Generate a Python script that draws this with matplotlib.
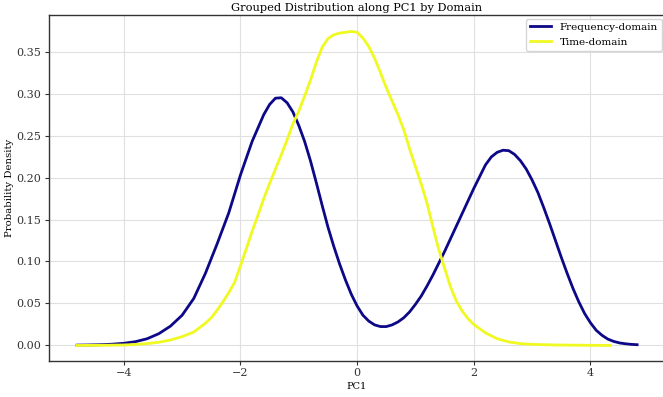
import matplotlib
matplotlib.use("Agg")
import matplotlib.pyplot as plt

# KDE of PC1 scores, one curve per domain
freq_x = [-4.8, -4.6, -4.4, -4.2, -4.0, -3.8, -3.6, -3.4, -3.2, -3.0, -2.8, -2.6, -2.4,
          -2.2, -2.0, -1.8, -1.6, -1.5, -1.4, -1.3, -1.2, -1.1, -1.0, -0.9, -0.8, -0.7,
          -0.6, -0.5, -0.4, -0.3, -0.2, -0.1, 0.0, 0.1, 0.2, 0.3, 0.4, 0.5, 0.6, 0.7,
          0.8, 0.9, 1.0, 1.1, 1.2, 1.3, 1.4, 1.5, 1.6, 1.7, 1.8, 1.9, 2.0, 2.1, 2.2,
          2.3, 2.4, 2.5, 2.6, 2.7, 2.8, 2.9, 3.0, 3.1, 3.2, 3.3, 3.4, 3.5, 3.6, 3.7,
          3.8, 3.9, 4.0, 4.1, 4.2, 4.3, 4.4, 4.5, 4.6, 4.7, 4.8]
freq_y = [0.0004, 0.0006, 0.0009, 0.0015, 0.0026, 0.0045, 0.008, 0.014, 0.023, 0.036,
          0.056, 0.086, 0.121, 0.158, 0.203, 0.243, 0.275, 0.287, 0.2945, 0.295, 0.289,
          0.278, 0.262, 0.243, 0.220, 0.194, 0.167, 0.141, 0.118, 0.097, 0.078, 0.061,
          0.047, 0.036, 0.029, 0.0245, 0.0225, 0.0225, 0.0245, 0.028, 0.033, 0.040,
          0.049, 0.059, 0.071, 0.084, 0.098, 0.112, 0.127, 0.142, 0.157, 0.172, 0.187,
          0.201, 0.215, 0.2245, 0.2300, 0.2325, 0.232, 0.2275, 0.220, 0.210, 0.197,
          0.182, 0.164, 0.145, 0.125, 0.105, 0.086, 0.068, 0.052, 0.038, 0.027, 0.018,
          0.012, 0.0075, 0.0048, 0.003, 0.002, 0.0013, 0.0009]

time_x = [-4.8, -4.4, -4.0, -3.8, -3.6, -3.4, -3.2, -3.0, -2.8, -2.6, -2.5, -2.4, -2.3,
          -2.2, -2.1, -2.0, -1.9, -1.8, -1.7, -1.6, -1.5, -1.4, -1.3, -1.2, -1.1, -1.0,
          -0.9, -0.8, -0.7, -0.6, -0.5, -0.4, -0.3, -0.2, -0.1, 0.0, 0.1, 0.2, 0.3, 0.4,
          0.5, 0.6, 0.7, 0.8, 0.9, 1.0, 1.1, 1.2, 1.3, 1.4, 1.5, 1.6, 1.7, 1.8, 1.9,
          2.0, 2.2, 2.4, 2.6, 2.8, 3.0, 3.4, 3.8, 4.34]
time_y = [0.0, 0.0002, 0.0006, 0.0012, 0.0022, 0.0038, 0.0065, 0.0105, 0.016, 0.0265,
          0.033, 0.042, 0.052, 0.063, 0.075, 0.095, 0.115, 0.136, 0.155, 0.175, 0.193,
          0.210, 0.227, 0.245, 0.264, 0.279, 0.297, 0.316, 0.337, 0.355, 0.3655, 0.370,
          0.372, 0.373, 0.374, 0.373, 0.366, 0.356, 0.342, 0.325, 0.307, 0.291, 0.275,
          0.257, 0.234, 0.213, 0.192, 0.169, 0.141, 0.114, 0.092, 0.070, 0.053, 0.041,
          0.032, 0.025, 0.015, 0.008, 0.0042, 0.0022, 0.0013, 0.0006, 0.0003, 0.0]

domains = ["Frequency-domain", "Time-domain"]
colors = ["#0d0887", "#f0f921"]

plt.rcParams["font.family"] = ["DejaVu Serif"]

fig = plt.figure(figsize=(6.63, 3.97), dpi=100)
ax = fig.add_axes([0.0732, 0.0907, 0.93, 0.8703])

ax.plot(freq_x, freq_y, color=colors[0], lw=2, label=domains[0])
ax.plot(time_x, time_y, color=colors[1], lw=2, label=domains[1])

ax.set_xlim(-5.29, 5.28)
ax.set_ylim(-0.0185, 0.393)
ax.set_xticks([-4, -2, 0, 2, 4])
ax.set_yticks([0.0, 0.05, 0.10, 0.15, 0.20, 0.25, 0.30, 0.35])
ax.set_yticklabels(["0.00", "0.05", "0.10", "0.15", "0.20", "0.25", "0.30", "0.35"])
ax.tick_params(labelsize=8, colors="#333333", length=3, pad=2)
ax.grid(True, color="#e0e0e0", lw=0.8)
ax.set_axisbelow(True)
for s in ax.spines.values():
    s.set_color("#333333")
    s.set_linewidth(1.0)

ax.set_title("Grouped Distribution along PC1 by Domain", fontsize=8.2, pad=3)
ax.set_xlabel("PC1", fontsize=7, labelpad=3)
ax.set_ylabel("Probability Density", fontsize=7.3, labelpad=2)
ax.legend(loc="upper right", fontsize=7.5, frameon=True, edgecolor="#cccccc",
          fancybox=True, borderaxespad=0.3)

plt.savefig("out.png", dpi=100)
